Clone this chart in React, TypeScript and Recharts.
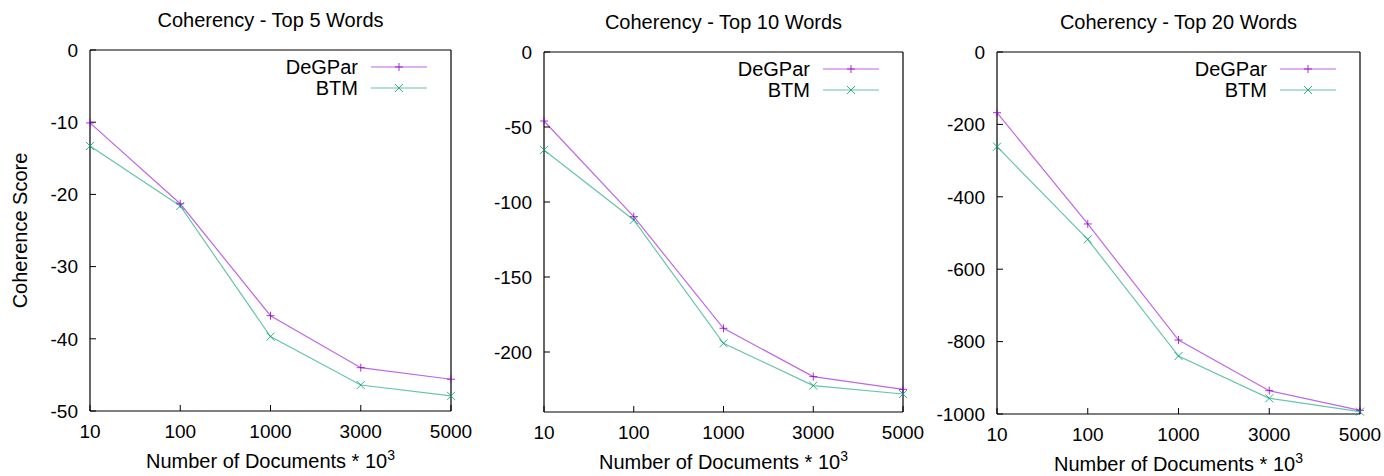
import { LineChart, Line, XAxis, YAxis, Legend, Label } from 'recharts'

const docCounts = ['10', '100', '1000', '3000', '5000']
const seriesNames = ['DeGPar', 'BTM']

const top5DeGPar = [-10.1, -21.3, -36.8, -44.0, -45.6]
const top5BTM = [-13.3, -21.6, -39.7, -46.4, -47.9]

const top10DeGPar = [-46, -109.8, -184.2, -216.4, -224.9]
const top10BTM = [-65.3, -112, -194.2, -222.4, -228]

const top20DeGPar = [-167.6, -475, -795.6, -935.5, -990]
const top20BTM = [-261.6, -517.5, -839.8, -956.7, -993.6]

const top5Ticks = [0, -10, -20, -30, -40, -50]
const top10Ticks = [0, -50, -100, -150, -200]
const top20Ticks = [0, -200, -400, -600, -800, -1000]

const FONT = '"Liberation Sans", Arial, Helvetica, sans-serif'
const PURPLE = '#9400d3'
const GREEN = '#009e73'
const LINE_OPACITY = 0.6

const plusPath = (cx: number, cy: number) => `M${cx - 4},${cy}H${cx + 4}M${cx},${cy - 4}V${cy + 4}`
const crossPath = (cx: number, cy: number) =>
  `M${cx - 4},${cy - 4}L${cx + 4},${cy + 4}M${cx + 4},${cy - 4}L${cx - 4},${cy + 4}`

const makeDot = (color: string, cross: boolean) => (props: any) => {
  const { cx, cy, index } = props
  if (cx == null || cy == null) return <g key={`e${index}`} />
  return (
    <path
      key={`${cross ? 'x' : 'p'}${index}`}
      d={cross ? crossPath(cx, cy) : plusPath(cx, cy)}
      stroke={color}
      strokeOpacity={0.8}
      strokeWidth={1}
      fill="none"
    />
  )
}

const LegendBox = (props: any) => {
  const items = [...(props.payload || [])].sort(
    (a: any, b: any) => seriesNames.indexOf(a.value) - seriesNames.indexOf(b.value)
  )
  return (
    <svg width={160} height={42} style={{ display: 'block', overflow: 'visible' }}>
      {items.map((entry: any, i: number) => {
        const cy = 10 + i * 21
        const isBtm = entry.value === 'BTM'
        const color = isBtm ? GREEN : PURPLE
        return (
          <g key={entry.value}>
            <text x={91} y={cy + 7} textAnchor="end" fontFamily={FONT} fontSize={20} fill="#000">
              {entry.value}
            </text>
            <line x1={104} x2={160} y1={cy} y2={cy} stroke={color} strokeOpacity={LINE_OPACITY} strokeWidth={1.2} />
            <path d={isBtm ? crossPath(132, cy) : plusPath(132, cy)} stroke={color} strokeOpacity={0.8} fill="none" />
          </g>
        )
      })}
    </svg>
  )
}

type PanelProps = {
  title: string
  degpar: number[]
  btm: number[]
  yTicks: number[]
  yMin: number
  left: number
  width: number
  plotLeft: number
  plotRight: number
  plotTop: number
  plotBottom: number
  yLabel?: string
}

const Panel = ({ title, degpar, btm, yTicks, yMin, left, width, plotLeft, plotRight, plotTop, plotBottom, yLabel }: PanelProps) => {
  const height = 476
  const rows = docCounts.map((x, i) => ({ x, DeGPar: degpar[i], BTM: btm[i] }))
  const tickStyle = { fill: '#000', fontSize: 19, fontFamily: FONT }

  return (
    <div style={{ position: 'absolute', left, top: 0 }}>
      <LineChart
        width={width}
        height={height}
        data={rows}
        margin={{ top: plotTop - 1, right: width - plotRight - 1, bottom: 0, left: 0 }}
      >
        <XAxis
          dataKey="x"
          xAxisId="bottom"
          height={height - plotBottom}
          tick={tickStyle}
          tickSize={-6}
          tickMargin={20}
          axisLine={{ stroke: '#000', strokeWidth: 1.2 }}
          tickLine={{ stroke: '#000' }}
          interval={0}
        >
          <Label
            content={(p: any) => {
              const vb = p.viewBox || {}
              return (
                <text x={vb.x + vb.width / 2} y={vb.y + 57} textAnchor="middle" fontFamily={FONT} fontSize={20} fill="#000">
                  Number of Documents * 10
                  <tspan dy={-8} fontSize={14}>3</tspan>
                </text>
              )
            }}
          />
        </XAxis>
        <XAxis
          dataKey="x"
          xAxisId="top"
          orientation="top"
          height={1}
          tick={false}
          tickSize={-6}
          axisLine={{ stroke: '#000', strokeWidth: 1.2 }}
          tickLine={{ stroke: '#000' }}
          interval={0}
        >
          <Label
            content={(p: any) => {
              const vb = p.viewBox || {}
              return (
                <text x={vb.x + vb.width / 2} y={vb.y - 22} textAnchor="middle" fontFamily={FONT} fontSize={20} fill="#000">
                  {title}
                </text>
              )
            }}
          />
        </XAxis>
        <YAxis
          yAxisId="left"
          type="number"
          width={plotLeft}
          domain={[yMin, 0]}
          ticks={yTicks}
          interval={0}
          tick={tickStyle}
          tickSize={-6}
          tickMargin={18}
          axisLine={{ stroke: '#000', strokeWidth: 1.2 }}
          tickLine={{ stroke: '#000' }}
        >
          {yLabel ? (
            <Label
              content={(p: any) => {
                const vb = p.viewBox || {}
                const cy = vb.y + vb.height / 2
                return (
                  <text
                    x={27}
                    y={cy}
                    transform={`rotate(-90, 27, ${cy})`}
                    textAnchor="middle"
                    fontFamily={FONT}
                    fontSize={20}
                    fill="#000"
                  >
                    {yLabel}
                  </text>
                )
              }}
            />
          ) : null}
        </YAxis>
        <YAxis
          yAxisId="right"
          orientation="right"
          type="number"
          width={1}
          domain={[yMin, 0]}
          ticks={yTicks}
          interval={0}
          tick={false}
          tickSize={-6}
          axisLine={{ stroke: '#000', strokeWidth: 1.2 }}
          tickLine={{ stroke: '#000' }}
        />
        <Legend
          layout="horizontal"
          align="center"
          verticalAlign="middle"
          content={LegendBox}
          wrapperStyle={{ left: plotRight - 24 - 160, top: plotTop + 7, width: 160, height: 42 }}
        />
        <Line
          xAxisId="bottom"
          yAxisId="left"
          dataKey="DeGPar"
          name="DeGPar"
          stroke={PURPLE}
          strokeOpacity={LINE_OPACITY}
          strokeWidth={1.2}
          dot={makeDot(PURPLE, false)}
          activeDot={false}
          isAnimationActive={false}
        />
        <Line
          xAxisId="bottom"
          yAxisId="left"
          dataKey="BTM"
          name="BTM"
          stroke={GREEN}
          strokeOpacity={LINE_OPACITY}
          strokeWidth={1.2}
          dot={makeDot(GREEN, true)}
          activeDot={false}
          isAnimationActive={false}
        />
      </LineChart>
    </div>
  )
}

export default function App() {
  return (
    <div style={{ position: 'absolute', left: 0, top: 0, width: 1384, height: 476, background: '#fff', fontFamily: FONT }}>
      <style>{'svg.recharts-surface { overflow: visible; }'}</style>
      <Panel
        title="Coherency - Top 5 Words"
        degpar={top5DeGPar}
        btm={top5BTM}
        yTicks={top5Ticks}
        yMin={-50}
        left={0}
        width={460}
        plotLeft={90}
        plotRight={451}
        plotTop={50}
        plotBottom={411}
        yLabel="Coherence Score"
      />
      <Panel
        title="Coherency - Top 10 Words"
        degpar={top10DeGPar}
        btm={top10BTM}
        yTicks={top10Ticks}
        yMin={-240}
        left={460}
        width={460}
        plotLeft={84}
        plotRight={443}
        plotTop={52}
        plotBottom={412}
      />
      <Panel
        title="Coherency - Top 20 Words"
        degpar={top20DeGPar}
        btm={top20BTM}
        yTicks={top20Ticks}
        yMin={-1000}
        left={920}
        width={464}
        plotLeft={77}
        plotRight={440}
        plotTop={52}
        plotBottom={414}
      />
    </div>
  )
}
